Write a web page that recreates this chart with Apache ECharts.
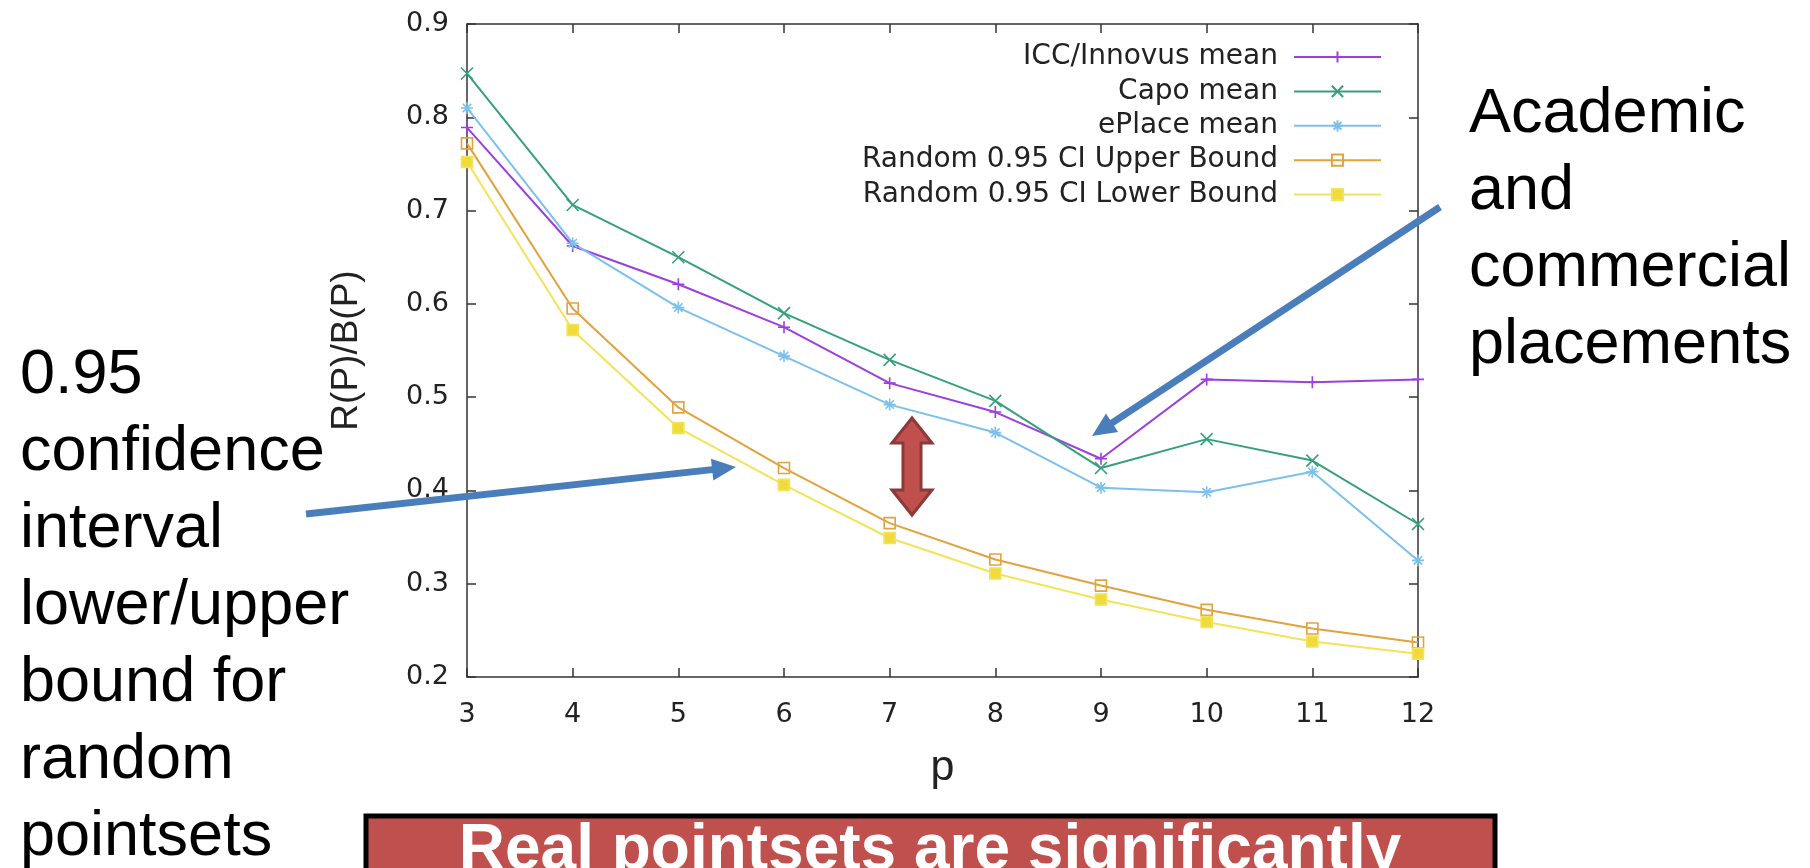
<!DOCTYPE html>
<html>
<head>
<meta charset="utf-8">
<script src="https://cdn.jsdelivr.net/npm/echarts@6/dist/echarts.min.js"></script>
<style>
  html, body { margin: 0; padding: 0; background: #fff; }
  #main { width: 1810px; height: 868px; }
</style>
</head>
<body>
<div id="main"></div>
<script>
// p 取值
const pValues = [3, 4, 5, 6, 7, 8, 9, 10, 11, 12];
// 各方法均值
const iccMean = [0.789, 0.662, 0.621, 0.575, 0.515, 0.484, 0.434, 0.519, 0.516, 0.519];
const capoMean = [0.847, 0.706, 0.650, 0.590, 0.540, 0.496, 0.424, 0.455, 0.432, 0.364];
const eplaceMean = [0.810, 0.665, 0.596, 0.544, 0.492, 0.462, 0.403, 0.398, 0.420, 0.325];
// 随机点集 0.95 置信区间
const randUpper = [0.772, 0.595, 0.489, 0.424, 0.365, 0.326, 0.298, 0.272, 0.252, 0.237];
const randLower = [0.752, 0.572, 0.467, 0.406, 0.349, 0.311, 0.283, 0.259, 0.238, 0.225];
const seriesNames = ['ICC/Innovus mean', 'Capo mean', 'ePlace mean',
    'Random 0.95 CI Upper Bound', 'Random 0.95 CI Lower Bound'];
const leftNote = ['0.95', 'confidence', 'interval', 'lower/upper', 'bound for', 'random', 'pointsets'];
const rightNote = ['Academic', 'and', 'commercial', 'placements'];
const boxText = 'Real pointsets are significantly';

function pairs(ys) {
    return pValues.map(function (p, i) { return [p, ys[i]]; });
}

// arrow polygon from (x1,y1) to tip (x2,y2)
function arrowPoints(x1, y1, x2, y2, shaft, headLen, headHalf) {
    let dx = x2 - x1, dy = y2 - y1;
    let len = Math.sqrt(dx * dx + dy * dy);
    let ux = dx / len, uy = dy / len;
    let nx = -uy, ny = ux;
    let bx = x2 - ux * headLen, by = y2 - uy * headLen;
    let s = shaft / 2;
    return [
        [x1 + nx * s, y1 + ny * s],
        [bx + nx * s, by + ny * s],
        [bx + nx * headHalf, by + ny * headHalf],
        [x2, y2],
        [bx - nx * headHalf, by - ny * headHalf],
        [bx - nx * s, by - ny * s],
        [x1 - nx * s, y1 - ny * s]
    ];
}

const myChart = echarts.init(document.getElementById('main'));

const tickFont = 'DejaVu Sans';
const frameColor = '#333';

function lineSeries(name, data, color, symbol, size, fill) {
    return {
        name: name,
        type: 'line',
        data: pairs(data),
        symbol: symbol,
        symbolSize: size,
        lineStyle: { color: color, width: 2 },
        itemStyle: { color: fill, borderColor: color, borderWidth: 1.6 },
        z: 3
    };
}

const option = {
    animation: false,
    backgroundColor: '#fff',
    grid: { left: 467, top: 24, right: 392, bottom: 191 },
    legend: {
        orient: 'vertical',
        right: 423,
        top: 35,
        align: 'right',
        itemWidth: 87,
        itemHeight: 14,
        itemGap: 0.4,
        data: seriesNames,
        textStyle: {
            fontSize: 28,
            fontFamily: tickFont,
            color: '#222',
            lineHeight: 34,
            padding: [0, 11, 0, 0]
        }
    },
    xAxis: [{
        type: 'value',
        min: 3,
        max: 12,
        interval: 1,
        name: 'p',
        nameLocation: 'middle',
        nameGap: 70,
        nameTextStyle: { fontSize: 43, fontFamily: 'Liberation Sans', color: '#222' },
        axisLine: { lineStyle: { color: frameColor, width: 1.5 } },
        axisTick: { inside: true, length: 9, lineStyle: { color: frameColor, width: 1.5 } },
        axisLabel: { margin: 24, fontSize: 27, fontFamily: tickFont, color: '#222' },
        splitLine: { show: false }
    }, {
        type: 'value',
        position: 'top',
        min: 3,
        max: 12,
        interval: 1,
        axisLine: { show: true, lineStyle: { color: frameColor, width: 1.5 } },
        axisTick: { show: true, inside: true, length: 9, lineStyle: { color: frameColor, width: 1.5 } },
        axisLabel: { show: false },
        splitLine: { show: false }
    }],
    yAxis: [{
        type: 'value',
        min: 0.2,
        max: 0.9,
        interval: 0.1,
        name: 'R(P)/B(P)',
        nameLocation: 'middle',
        nameGap: 102,
        nameTextStyle: { fontSize: 37, fontFamily: 'Liberation Sans', color: '#222' },
        axisLine: { show: true, lineStyle: { color: frameColor, width: 1.5 } },
        axisTick: { show: true, inside: true, length: 9, lineStyle: { color: frameColor, width: 1.5 } },
        axisLabel: {
            margin: 18, fontSize: 27, fontFamily: tickFont, color: '#222',
            formatter: function (v) { return v.toFixed(1); }
        },
        splitLine: { show: false }
    }, {
        type: 'value',
        position: 'right',
        min: 0.2,
        max: 0.9,
        interval: 0.1,
        axisLine: { show: true, lineStyle: { color: frameColor, width: 1.5 } },
        axisTick: { show: true, inside: true, length: 9, lineStyle: { color: frameColor, width: 1.5 } },
        axisLabel: { show: false },
        splitLine: { show: false }
    }],
    series: [
        lineSeries(seriesNames[0], iccMean, '#9d3fe0', 'path://M5,0L5,10M0,5L10,5', 12, '#9d3fe0'),
        lineSeries(seriesNames[1], capoMean, '#35a07a', 'path://M0,0L10,10M0,10L10,0', 12, '#35a07a'),
        lineSeries(seriesNames[2], eplaceMean, '#7cc0ec', 'path://M0,5L10,5M5,0L5,10M1.5,1.5L8.5,8.5M1.5,8.5L8.5,1.5', 12, '#7cc0ec'),
        lineSeries(seriesNames[3], randUpper, '#e2a23c', 'rect', 11, 'rgba(255,255,255,0)'),
        lineSeries(seriesNames[4], randLower, '#f2e35a', 'rect', 11, '#efdc3c')
    ],
    graphic: [
        {
            type: 'text', left: 20, top: 337, z: 10,
            style: {
                text: leftNote.join('\n'), fontSize: 63, lineHeight: 77,
                fontFamily: 'Liberation Sans', fill: '#000'
            }
        },
        {
            type: 'text', left: 1469, top: 76, z: 10,
            style: {
                text: rightNote.join('\n'), fontSize: 63, lineHeight: 77,
                fontFamily: 'Liberation Sans', fill: '#000'
            }
        },
        {
            type: 'polygon', z: 20,
            shape: { points: arrowPoints(306, 514, 736, 467, 7, 24, 11) },
            style: { fill: '#4a7ebb' }
        },
        {
            type: 'polygon', z: 20,
            shape: { points: arrowPoints(1440, 207, 1092, 436, 7, 24, 11) },
            style: { fill: '#4a7ebb' }
        },
        {
            type: 'polygon', z: 20,
            shape: {
                points: [[912, 418], [932, 443], [921, 443], [921, 490], [932, 490],
                    [912, 515], [892, 490], [903, 490], [903, 443], [892, 443]]
            },
            style: { fill: '#c0504d', stroke: '#8b3a38', lineWidth: 3 }
        },
        {
            type: 'rect', z: 30,
            shape: { x: 366, y: 816, width: 1129, height: 70 },
            style: { fill: '#c0504d', stroke: '#000', lineWidth: 5 }
        },
        {
            type: 'text', z: 31, x: 930, y: 851,
            style: {
                text: boxText, fontSize: 64, fontWeight: 'bold',
                fontFamily: 'Liberation Sans', fill: '#fff',
                align: 'center', verticalAlign: 'middle'
            }
        }
    ]
};

myChart.setOption(option);
</script>
</body>
</html>
